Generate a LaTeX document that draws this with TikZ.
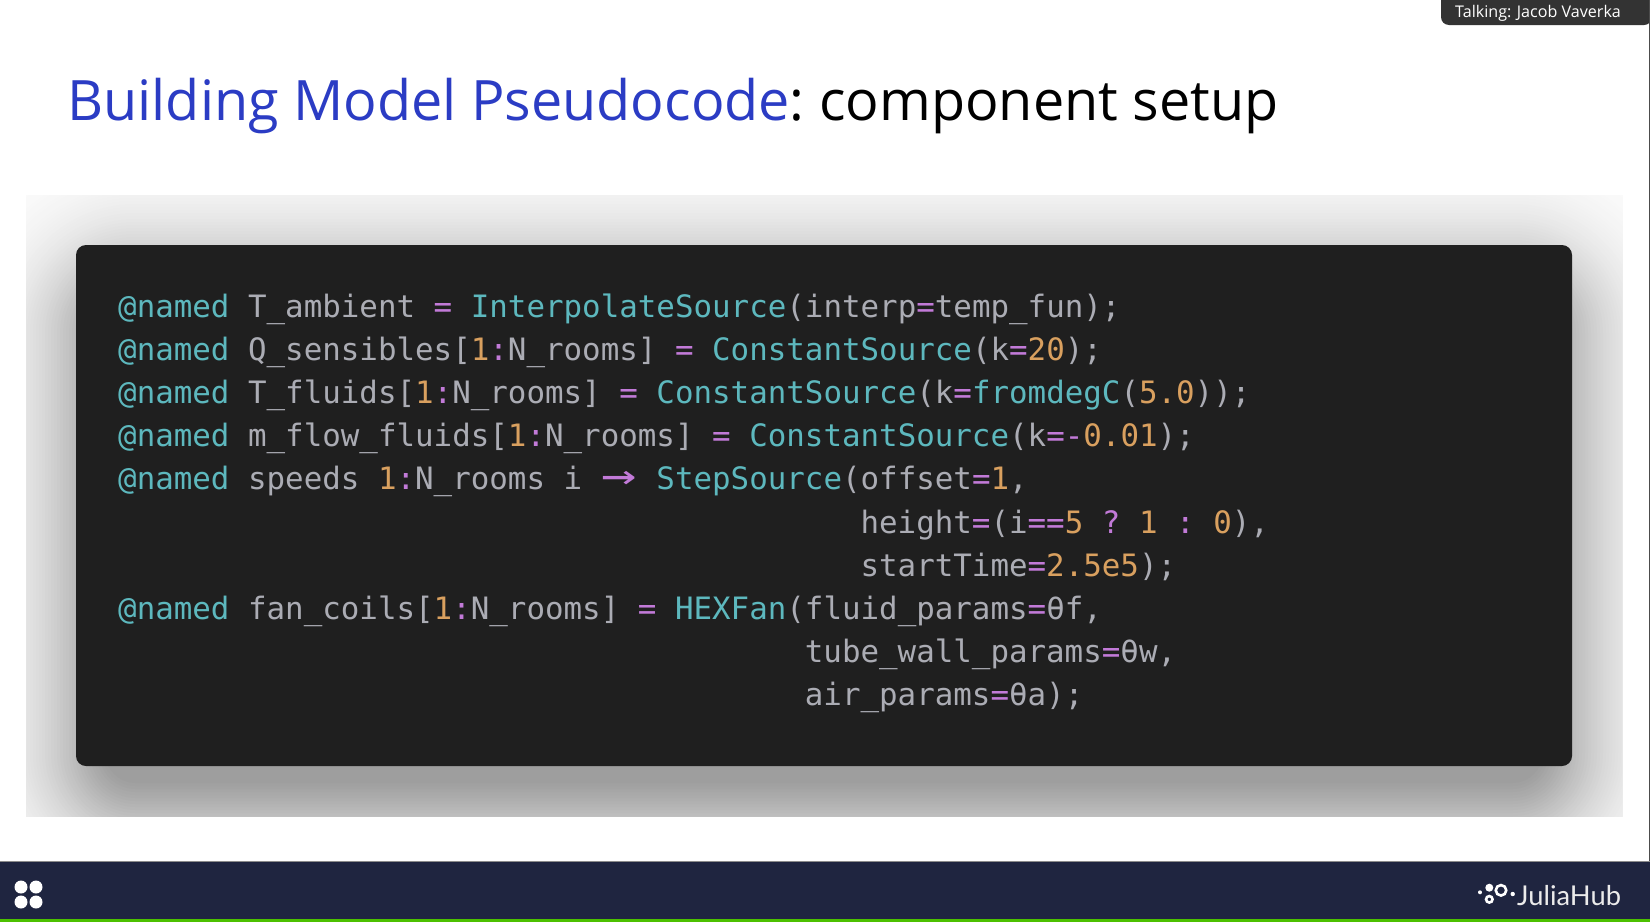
\documentclass[tikz,border=0pt]{standalone}
\usepackage{fontspec}
\usepackage{graphicx}
\setmainfont{Open Sans}
\newfontfamily\codefont{DejaVu Sans Mono}
\newfontfamily\logofont{Lato}
\definecolor{titleblue}{HTML}{2B3CC4}
\definecolor{codebg}{HTML}{1F1F1F}
\definecolor{codefg}{HTML}{ABACB4}
\definecolor{codeteal}{HTML}{5DB8BE}
\definecolor{codepurple}{HTML}{C27AD8}
\definecolor{codeorange}{HTML}{D9A05F}
\definecolor{barnavy}{HTML}{1F2540}
\definecolor{bargreen}{HTML}{4CC000}
\definecolor{talkbg}{HTML}{333333}
\newcommand{\kw}[1]{\textcolor{codeteal}{#1}}
\newcommand{\opr}[1]{\textcolor{codepurple}{#1}}
\newcommand{\num}[1]{\textcolor{codeorange}{#1}}
\newcommand{\rng}{[\num{1}\opr{:}N\_rooms]}
\tikzset{
  codeline/.style={anchor=base west,inner sep=0pt,text=codefg,font=\codefont\fontsize{30.83}{36}\selectfont\frenchspacing},
  logodot/.style={circle,fill=white,inner sep=0pt,draw=none},
  logoring/.style={circle,draw=white,fill=none,inner sep=0pt,line width=2.6pt},
  appsdot/.style={circle,fill=white,minimum size=13pt,inner sep=0pt,draw=none}
}
\begin{document}
\begin{tikzpicture}[x=1pt,y=-1pt]
\useasboundingbox (0,0) rectangle (1650,922);
\fill[white] (0,0) rectangle (1650,922);
% panel with soft shadow
\begin{scope}
\clip (26,195) rectangle (1622,816);
\fill[black!2!white] (26,195) rectangle (1622,816);
\foreach \d in {130,127,...,-44}{
  \pgfmathsetmacro{\dk}{min(0.38,0.55/(1+exp(\d/36)))}
  \pgfmathsetmacro{\gv}{1-\dk}
  \pgfmathsetmacro{\rad}{max(\d+60,4)}
  \definecolor{shadecol}{gray}{\gv}
  \fill[shadecol,rounded corners=\rad pt] (76-\d,274-\d) rectangle (1572+\d,812+\d);
}
\end{scope}
\fill[codebg,rounded corners=10pt] (76,245) rectangle (1572,766);
% code
\node[codeline] (l1) at (118,317.5) {\kw{@named} T\_ambient \opr{=} \kw{InterpolateSource}(interp\opr{=}temp\_fun);};
\node[codeline] (l2) at (118,360.6) {\kw{@named} Q\_sensibles\rng{} \opr{=} \kw{ConstantSource}(k\opr{=}\num{20});};
\node[codeline] (l3) at (118,403.7) {\kw{@named} T\_fluids\rng{} \opr{=} \kw{ConstantSource}(k\opr{=}\kw{fromdegC}(\num{5.0}));};
\node[codeline] (l4) at (118,446.8) {\kw{@named} m\_flow\_fluids\rng{} \opr{=} \kw{ConstantSource}(k\opr{=-}\num{0.01});};
\node[codeline] (l5) at (118,489.9) {\kw{@named} speeds \num{1}\opr{:}N\_rooms i \opr{\makebox[37.12pt]{\scalebox{1.9}[1.35]{→}}} \kw{StepSource}(offset\opr{=}\num{1},};
\node[codeline] (l6) at (860.4,533) {height\opr{=}(i\opr{==}\num{5} \opr{?} \num{1} \opr{:} \num{0}),};
\node[codeline] (l7) at (860.4,576.1) {startTime\opr{=}\num{2.5e5});};
\node[codeline] (l8) at (118,619.2) {\kw{@named} fan\_coils\rng{} \opr{=} \kw{HEXFan}(fluid\_params\opr{=}θf,};
\node[codeline] (l9) at (804.7,662.3) {tube\_wall\_params\opr{=}θw,};
\node[codeline] (l10) at (804.7,705.4) {air\_params\opr{=}θa);};
% title
\node[anchor=base west,inner sep=0pt,font=\fontsize{55.7}{64}\selectfont\frenchspacing] (title) at (67.2,120) {\textcolor{titleblue}{Building Model Pseudocode}\textcolor{black}{: component setup}};
% talking tab
\fill[talkbg,rounded corners=8pt] (1441,-12) rectangle (1652,25);
\node[anchor=base west,inner sep=0pt,text=white,font=\fontsize{16.1}{18}\selectfont] (talk) at (1455,17) {Talking: Jacob Vaverka};
% right edge
\fill[black!70!white] (1648.5,0) rectangle (1650,862);
% bottom bar
\fill[barnavy] (0,862) rectangle (1650,919);
\fill[black!45!white] (0,861) rectangle (1650,862);
\fill[bargreen] (0,919) rectangle (1650,922);
\node[appsdot] (a1) at (21,887) {};
\node[appsdot] (a2) at (36,887) {};
\node[appsdot] (a3) at (21,902) {};
\node[appsdot] (a4) at (36,902) {};
% logo
\node[logodot,minimum size=4pt] (g1) at (1480,892.3) {};
\node[logodot,minimum size=8pt] (g2) at (1489.3,887.7) {};
\node[logoring,minimum size=6.5pt] (g3) at (1489.3,899.3) {};
\node[logoring,minimum size=10.5pt] (g4) at (1501,890.3) {};
\node[logodot,minimum size=4.4pt] (g5) at (1512.7,894) {};
\node[anchor=base west,inner sep=0pt,text=white!92!black,font=\logofont\fontsize{27.3}{32}\selectfont] (hub) at (1517,905.3) {JuliaHub};
\end{tikzpicture}
\end{document}
